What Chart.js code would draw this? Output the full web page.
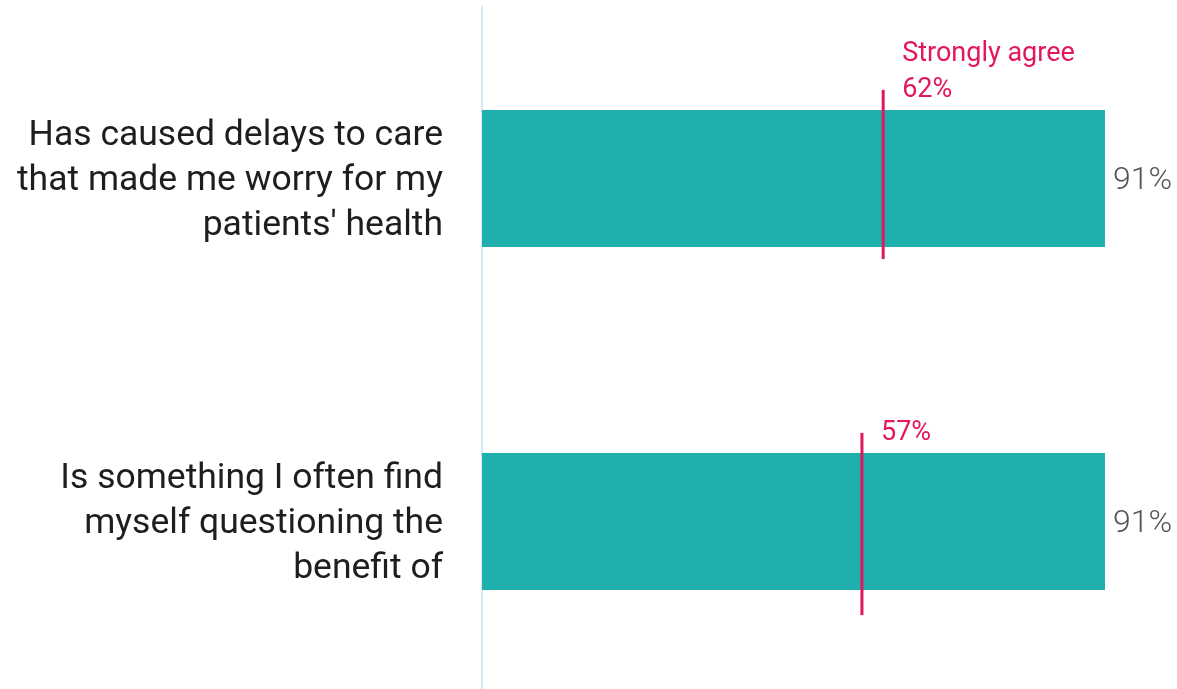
<!DOCTYPE html>
<html>
<head>
<meta charset="utf-8">
<script src="https://cdn.jsdelivr.net/npm/chart.js@4/dist/chart.umd.min.js"></script>
<style>
  html, body { margin: 0; padding: 0; background: #ffffff; overflow: hidden; }
  canvas { display: block; }
</style>
</head>
<body>
<canvas id="c" width="1177" height="693"></canvas>
<script>
// ---- Data ----
const categories = [
  ["Has caused delays to care", "that made me worry for my", "patients' health"],
  ["Is something I often find", "myself questioning the", "benefit of"]
];
const agreeTotal = [91, 91];             // bar values (%)
const stronglyAgree = [62, 57];          // printed "Strongly agree" values (%)
const stronglyAgreeMarkerAt = [58.6, 55.5]; // marker positions
const markerLabelHeader = ["Strongly agree", ""];

const MAGENTA = '#e3175d';
const TEAL = '#1fafad';

const overlayPlugin = {
  id: 'overlay',
  afterDatasetsDraw(chart) {
    const ctx = chart.ctx;
    const xs = chart.scales.x;
    const meta = chart.getDatasetMeta(0);
    const extBelow = [12, 25];
    meta.data.forEach((bar, i) => {
      const top = bar.y - bar.height / 2;
      const bottom = bar.y + bar.height / 2;
      // value label
      ctx.save();
      ctx.font = '300 32px Roboto';
      ctx.fillStyle = '#555555';
      ctx.textAlign = 'left';
      ctx.textBaseline = 'middle';
      ctx.fillText(agreeTotal[i] + '%', bar.x + 8, bar.y + 2);
      // marker
      const mx = xs.getPixelForValue(stronglyAgreeMarkerAt[i]);
      ctx.strokeStyle = MAGENTA;
      ctx.lineWidth = 3;
      ctx.beginPath();
      ctx.moveTo(mx, top - 20);
      ctx.lineTo(mx, bottom + extBelow[i]);
      ctx.stroke();
      // marker labels
      ctx.fillStyle = MAGENTA;
      ctx.font = '400 27px Roboto';
      ctx.textBaseline = 'alphabetic';
      const baseY = top - 13;
      ctx.fillText(stronglyAgree[i] + '%', mx + 19, baseY);
      if (markerLabelHeader[i]) {
        ctx.fillText(markerLabelHeader[i], mx + 19, baseY - 36);
      }
      ctx.restore();
    });
  }
};

new Chart(document.getElementById('c'), {
  type: 'bar',
  data: {
    labels: categories,
    datasets: [{
      data: agreeTotal,
      backgroundColor: TEAL,
      borderWidth: 0,
      barPercentage: 0.4,
      categoryPercentage: 1.0
    }]
  },
  options: {
    indexAxis: 'y',
    responsive: false,
    animation: false,
    devicePixelRatio: 1,
    layout: { padding: { top: 7, right: 10.4, bottom: 0, left: 0 } },
    plugins: { legend: { display: false }, tooltip: { enabled: false } },
    scales: {
      x: {
        display: false,
        min: 0,
        max: 100
      },
      y: {
        afterFit(scale) {
          scale.width = 482;
          scale.paddingTop = 0;
          scale.paddingBottom = 0;
        },
        grid: { display: false, drawTicks: false },
        border: { display: true, color: '#d6e8f1', width: 2 },
        ticks: {
          padding: 39,
          labelOffset: 3,
          color: '#1e1e1e',
          font: { family: 'Roboto', size: 35.5, weight: '400', lineHeight: 1.27 }
        }
      }
    }
  },
  plugins: [overlayPlugin]
});
</script>
</body>
</html>
